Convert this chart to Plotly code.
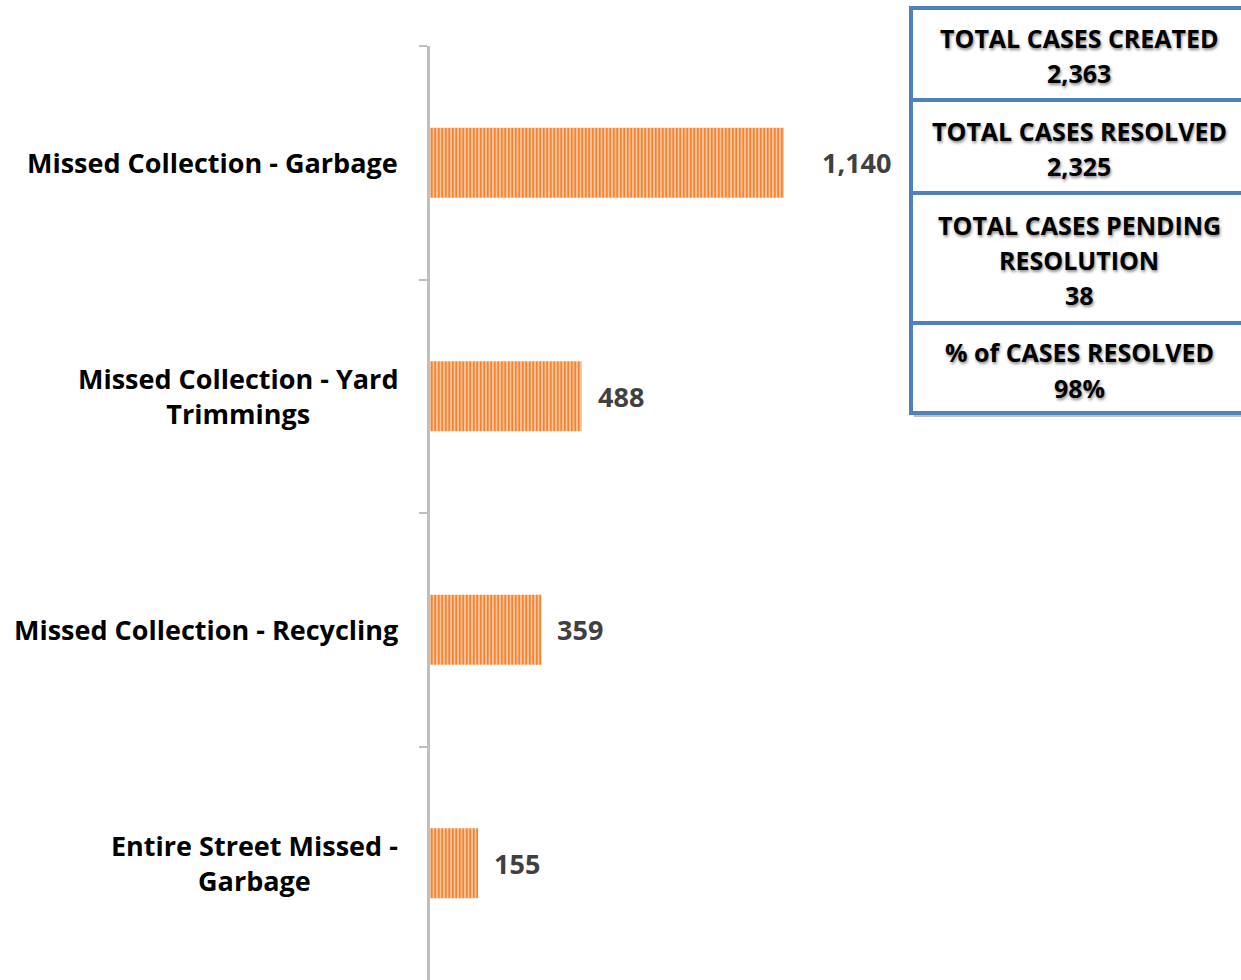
import plotly.graph_objects as go

W, H = 1241, 980

categories = [
    "Missed Collection - Garbage",
    "Missed Collection - Yard<br>Trimmings",
    "Missed Collection - Recycling",
    "Entire Street Missed -<br>Garbage",
]
values = [1140, 488, 359, 155]
value_labels = ["1,140", "488", "359", "155"]
label_shift = [36, 14, 14, 14]

box_lines = [
    ["TOTAL CASES CREATED", "2,363"],
    ["TOTAL CASES RESOLVED", "2,325"],
    ["TOTAL CASES PENDING", "RESOLUTION", "38"],
    ["% of CASES RESOLVED", "98%"],
]
box_edges_px = [8, 100, 193, 323, 413]

FONT = "Open Sans"
FS_LABEL = 27
FS_BOX = 25
BOX_LINE_PX = 35
x0_px = 430
px_per_unit = 354 / 1140
xmax = (W - x0_px) / px_per_unit
top_px = 46

fig = go.Figure()
fig.add_trace(go.Bar(
    y=categories, x=values, orientation="h", width=0.3,
    marker=dict(
        color="#F9CBA6",
        line=dict(width=0),
        pattern=dict(shape="|", size=3.5, solidity=0.55,
                     fgcolor="#F5822E", bgcolor="#F9CDAA", fillmode="replace"),
    ),
    hoverinfo="skip",
))

annotations = []
for c, v, t, s in zip(categories, values, value_labels, label_shift):
    annotations.append(dict(
        x=v, y=c, xref="x", yref="y", text=t, showarrow=False,
        xanchor="left", yanchor="middle", xshift=s,
        font=dict(family=FONT, size=FS_LABEL, color="#404040", weight="bold"),
    ))
    annotations.append(dict(
        x=400 / W, y=c, xref="paper", yref="y", text=c, showarrow=False,
        xanchor="right", yanchor="middle", align="center",
        font=dict(family=FONT, size=FS_LABEL, color="#000000", weight="bold"),
    ))

shapes = []
for i in range(len(box_lines)):
    ya, yb = box_edges_px[i], box_edges_px[i + 1]
    shapes.append(dict(
        type="rect", xref="paper", yref="paper",
        x0=(911 + 3) / W, x1=1.05, y0=1 - (yb + 4) / H, y1=1 - (ya + 4) / H,
        fillcolor="rgba(0,0,0,0.25)", line=dict(width=0), layer="above",
    ))
for i, lines in enumerate(box_lines):
    ya, yb = box_edges_px[i], box_edges_px[i + 1]
    shapes.append(dict(
        type="rect", xref="paper", yref="paper",
        x0=911 / W, x1=1.05, y0=1 - yb / H, y1=1 - ya / H,
        fillcolor="white", line=dict(color="#4F81BD", width=4), layer="above",
    ))
    center = (ya + yb) / 2 + 2
    n = len(lines)
    for j, ln in enumerate(lines):
        ypx = center + (j - (n - 1) / 2) * BOX_LINE_PX
        annotations.append(dict(
            x=1079 / W, y=1 - ypx / H, xref="paper", yref="paper",
            text=ln, showarrow=False, xanchor="center", yanchor="middle",
            font=dict(family=FONT, size=FS_BOX, color="#000000", weight="bold",
                      shadow="1px 2px 3px rgba(0,0,0,0.45)"),
        ))

fig.update_layout(
    width=W, height=H,
    margin=dict(l=0, r=0, t=0, b=0),
    paper_bgcolor="white", plot_bgcolor="white",
    showlegend=False,
    xaxis=dict(domain=[x0_px / W, 1], range=[0, xmax], visible=False, fixedrange=True),
    yaxis=dict(domain=[0, 1 - top_px / H], type="category", categoryorder="array",
               categoryarray=categories, autorange="reversed",
               showline=True, linecolor="#BFBFBF", linewidth=3,
               ticks="outside", tickson="boundaries", ticklen=8, tickcolor="#BFBFBF",
               tickwidth=2, showticklabels=False, showgrid=False, zeroline=False,
               fixedrange=True),
    shapes=shapes,
    annotations=annotations,
)

fig.write_html("out.html", config={"displayModeBar": False},
               post_script="document.body.style.margin='0';document.body.style.overflow='hidden';")
